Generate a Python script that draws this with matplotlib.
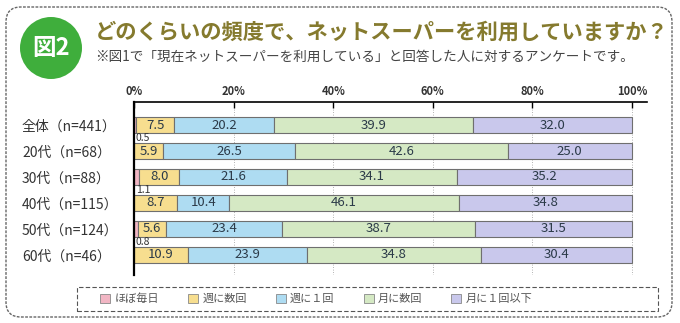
import matplotlib.pyplot as plt
import matplotlib.patches as mpatches

plt.rcParams['font.family'] = ['Noto Sans CJK JP', 'DejaVu Sans']

categories = ['全体（n=441）', '20代（n=68）', '30代（n=88）',
              '40代（n=115）', '50代（n=124）', '60代（n=46）']
series_names = ['ほぼ毎日', '週に数回', '週に１回', '月に数回', '月に１回以下']
daily = [0.5, 0.0, 1.1, 0.0, 0.8, 0.0]
few_week = [7.5, 5.9, 8.0, 8.7, 5.6, 10.9]
once_week = [20.2, 26.5, 21.6, 10.4, 23.4, 23.9]
few_month = [39.9, 42.6, 34.1, 46.1, 38.7, 34.8]
once_month = [32.0, 25.0, 35.2, 34.8, 31.5, 30.4]
xticks = [0, 20, 40, 60, 80, 100]

colors = ['#f2b6c4', '#f7de8f', '#aedcf2', '#d5e9c4', '#c9c8ec']
series = [daily, few_week, once_week, few_month, once_month]

fig = plt.figure(figsize=(6.8, 3.23), dpi=100)

# rounded frame around the whole panel
frame = mpatches.FancyBboxPatch((0.06, 0.06), 6.66, 3.1,
                                boxstyle='round,pad=0,rounding_size=0.15',
                                transform=fig.dpi_scale_trans, fill=False,
                                ec='#666666', lw=1.0, ls=(0, (2, 1)))
fig.patches.append(frame)

# green badge
badge = mpatches.Circle((0.51, 3.23 - 0.48), 0.31, transform=fig.dpi_scale_trans,
                        color='#3fae3c', ec='none')
fig.patches.append(badge)
fig.text(51 / 680, 1 - 48 / 323, '図2', color='white', fontsize=17,
         fontweight='bold', ha='center', va='center')

fig.text(95 / 680, 1 - 32 / 323, 'どのくらいの頻度で、ネットスーパーを利用していますか？',
         fontsize=15.3, fontweight='bold', color='#857a2e', va='center')
fig.text(95 / 680, 1 - 57 / 323,
         '※図1で「現在ネットスーパーを利用している」と回答した人に対するアンケートです。',
         fontsize=9.8, color='#444444', va='center')

ax = fig.add_axes([134 / 680, 1 - 275 / 323, 498 * 1.03 / 680, 173 / 323])
y = list(range(len(categories)))
left = [0.0] * len(categories)
for vals, c in zip(series, colors):
    ax.barh(y, vals, left=left, height=0.62, color=c, edgecolor='#6f6f6f',
            linewidth=0.8, zorder=2)
    left = [l + v for l, v in zip(left, vals)]

# value labels: inside the segment, tiny ones under the bar
for i in y:
    start = 0.0
    for k, vals in enumerate(series):
        v = vals[i]
        if k == 0:
            if v > 0:
                ax.text(0.4, i + 0.5, f'{v:.1f}', fontsize=7.5, color='#333333',
                        ha='left', va='center')
        else:
            ax.text(start + v / 2, i, f'{v:.1f}', fontsize=9.5, color='#2b3a48',
                    ha='center', va='center', zorder=3)
        start += v

ax.set_xlim(0, 103)
ax.set_ylim(len(categories) - 1 + 0.77, -0.885)
ax.set_yticks(y)
ax.set_yticklabels(categories, fontsize=10, color='#333333', ha='left')
ax.tick_params(axis='y', length=0, pad=112 * 0.72)
ax.xaxis.tick_top()
ax.set_xticks(xticks)
ax.set_xticklabels([f'{t}%' for t in xticks], fontsize=8, fontweight='bold',
                   color='#333333')
ax.tick_params(axis='x', direction='in', length=4, width=1, pad=3)
for t in xticks[1:]:
    ax.axvline(t, color='#999999', lw=0.6, ls=(0, (1, 2)), zorder=1)
for s in ['right', 'bottom']:
    ax.spines[s].set_visible(False)
ax.spines['top'].set_linewidth(1.2)
ax.spines['left'].set_linewidth(1.6)

# legend in a dashed box
legend_box = mpatches.Rectangle((77 / 680, 1 - 311 / 323), 581 / 680, 24 / 323,
                                transform=fig.transFigure, fill=False,
                                ec='#555555', lw=0.8, ls=(0, (4, 2)))
fig.patches.append(legend_box)
handles = [mpatches.Patch(facecolor=c, edgecolor='#888888', lw=0.6) for c in colors]
fig.legend(handles, series_names, loc='center left',
           bbox_to_anchor=(90 / 680, 1 - 299 / 323), ncol=5, frameon=False,
           fontsize=8, handlelength=0.9, handleheight=0.9, handletextpad=0.4,
           columnspacing=2.6, labelcolor='#555555')

fig.savefig('out.png', dpi=100)
